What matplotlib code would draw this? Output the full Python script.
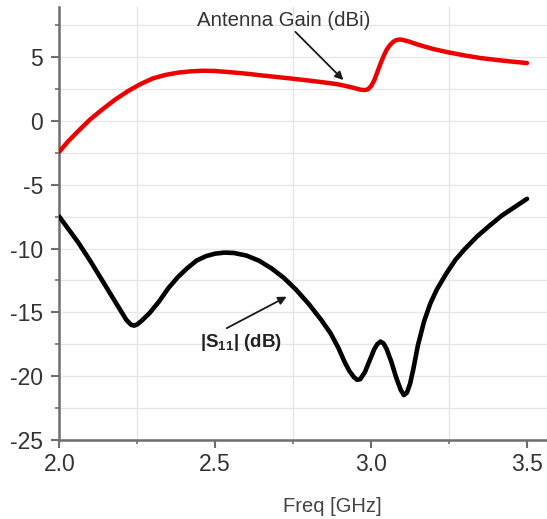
import numpy as np
import matplotlib
matplotlib.use("Agg")
import matplotlib.pyplot as plt

plt.rcParams['font.family'] = ['Liberation Sans', 'DejaVu Sans']
plt.rcParams['mathtext.fontset'] = 'custom'
plt.rcParams['mathtext.rm'] = 'Liberation Sans'
plt.rcParams['mathtext.bf'] = 'Liberation Sans:bold'

# Antenna gain (dBi) vs frequency (GHz)
gain_freq = [2.00, 2.03, 2.06, 2.10, 2.14, 2.18, 2.22, 2.26, 2.30, 2.34, 2.38, 2.42,
             2.46, 2.50, 2.55, 2.60, 2.65, 2.70, 2.75, 2.80, 2.85, 2.89, 2.92, 2.945,
             2.965, 2.98, 2.99, 3.00, 3.01, 3.02, 3.03, 3.04, 3.05, 3.06, 3.07, 3.08,
             3.09, 3.10, 3.12, 3.15, 3.20, 3.25, 3.30, 3.35, 3.40, 3.45, 3.50]
gain_dbi = [-2.4, -1.55, -0.8, 0.15, 0.95, 1.7, 2.35, 2.9, 3.35, 3.62, 3.8, 3.9,
            3.95, 3.93, 3.83, 3.72, 3.58, 3.45, 3.32, 3.18, 3.03, 2.9, 2.75, 2.6,
            2.47, 2.43, 2.5, 2.75, 3.2, 3.85, 4.5, 5.1, 5.6, 5.95, 6.2, 6.35,
            6.4, 6.38, 6.25, 6.0, 5.65, 5.38, 5.15, 4.95, 4.8, 4.67, 4.55]

# |S11| (dB) vs frequency (GHz)
s11_freq = [2.00, 2.03, 2.06, 2.10, 2.14, 2.17, 2.195, 2.215, 2.23, 2.24, 2.25, 2.265,
            2.29, 2.32, 2.35, 2.38, 2.41, 2.44, 2.47, 2.50, 2.53, 2.56, 2.60, 2.64,
            2.68, 2.72, 2.76, 2.80, 2.84, 2.87, 2.895, 2.915, 2.93, 2.945, 2.955, 2.965,
            2.98, 2.995, 3.01, 3.02, 3.03, 3.04, 3.05, 3.065, 3.08, 3.095, 3.105, 3.115,
            3.125, 3.135, 3.15, 3.17, 3.19, 3.21, 3.24, 3.27, 3.30, 3.34, 3.38, 3.42,
            3.46, 3.50]
s11_db = [-7.5, -8.5, -9.5, -11.0, -12.6, -13.8, -14.8, -15.6, -15.98, -16.05, -15.95, -15.65,
          -15.05, -14.15, -13.1, -12.25, -11.55, -10.95, -10.6, -10.4, -10.32, -10.35, -10.55, -10.95,
          -11.55, -12.3, -13.25, -14.35, -15.6, -16.65, -17.8, -18.9, -19.6, -20.1, -20.3, -20.25,
          -19.7, -18.8, -17.9, -17.5, -17.3, -17.45, -17.9, -18.9, -20.1, -21.1, -21.5, -21.3,
          -20.6, -19.5, -17.6, -15.7, -14.3, -13.25, -12.0, -10.9, -10.05, -9.05, -8.2, -7.4,
          -6.75, -6.1]

x_ticks = [2.0, 2.5, 3.0, 3.5]
y_ticks = [5, 0, -5, -10, -15, -20, -25]

fig = plt.figure(figsize=(5.47, 5.19), dpi=100)
ax = fig.add_axes([0.1084, 0.1528, 0.8916, 0.8337])

ax.plot(gain_freq, gain_dbi, color='#ee0000', lw=3.2, solid_joinstyle='round',
        solid_capstyle='round', zorder=3)
ax.plot(s11_freq, s11_db, color='black', lw=3.3, solid_joinstyle='round',
        solid_capstyle='round', zorder=3)

ax.set_xlim(2.0, 3.564)
ax.set_ylim(-25, 8.95)
ax.set_xticks(x_ticks)
ax.set_xticklabels([f"{v:.1f}" for v in x_ticks])
ax.set_yticks(y_ticks)
ax.set_yticklabels([str(v) for v in y_ticks])
ax.set_xticks(np.arange(2.25, 3.56, 0.5), minor=True)
ax.set_yticks(np.arange(-22.5, 9, 5), minor=True)

# grid: horizontal every 2.5, vertical only on minor positions
ax.grid(True, which='both', axis='y', color='#e6e6e6', lw=1.0, zorder=0)
ax.grid(True, which='minor', axis='x', color='#e6e6e6', lw=1.0, zorder=0)

for side in ['top', 'right']:
    ax.spines[side].set_visible(False)
for side in ['left', 'bottom']:
    ax.spines[side].set_color('#6e6e6e')
    ax.spines[side].set_linewidth(1.8)

ax.tick_params(which='major', direction='out', length=5.5, width=1.5, color='#6e6e6e',
               labelsize=16.5, labelcolor='#333333')
ax.tick_params(which='minor', direction='out', length=3, width=1.2, color='#6e6e6e')
ax.tick_params(axis='y', pad=6)
ax.tick_params(axis='x', pad=4)

ax.set_xlabel('Freq [GHz]', fontsize=14.5, color='#444444', va='center')
ax.xaxis.set_label_coords(0.559, -0.1555)

# annotations
ax.text(2.72, 7.93, 'Antenna Gain (dBi)', fontsize=14.7, color='#333333',
        ha='center', va='center')
ax.annotate('', xy=(2.911, 3.22), xytext=(2.757, 7.0),
            arrowprops=dict(arrowstyle='-|>', color='#1a1a1a', lw=1.3,
                            mutation_scale=12, shrinkA=0, shrinkB=0))

ax.text(2.583, -17.4, r'$\mathbf{|S_{11}|}$ (dB)', fontsize=13.5, fontweight='bold',
        color='#222222', ha='center', va='center')
ax.annotate('', xy=(2.729, -13.78), xytext=(2.537, -16.25),
            arrowprops=dict(arrowstyle='-|>', color='#1a1a1a', lw=1.3,
                            mutation_scale=12, shrinkA=0, shrinkB=0))

fig.savefig('out.png', dpi=100)
